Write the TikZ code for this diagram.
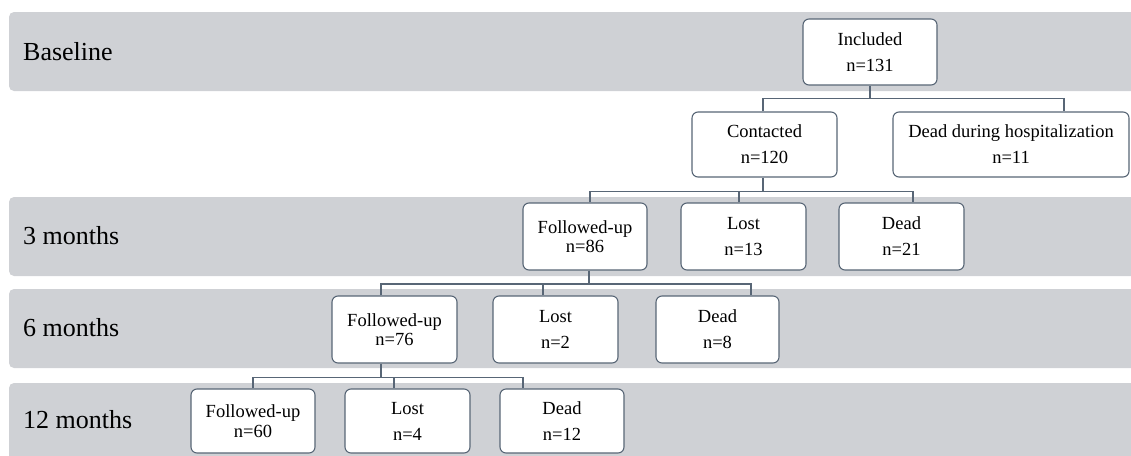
\documentclass[tikz,border=0pt]{standalone}
\usepackage{fontspec}
\setmainfont{Liberation Serif}
\usepackage{xcolor}
\usetikzlibrary{calc}

\definecolor{band}{RGB}{207,209,213}
\definecolor{edge}{RGB}{88,102,118}

\begin{document}
\begin{tikzpicture}[x=1pt, y=-1pt,
	box/.style={draw=edge, line width=1.1pt, fill=white, rounded corners=6pt, align=center, inner sep=0pt,
		minimum width=125pt, minimum height=67pt, font=\fontsize{18.5}{26}\selectfont},
	fubox/.style={box, font=\fontsize{18.5}{19.5}\selectfont},
	link/.style={draw=edge, line width=1.4pt},
	period/.style={anchor=west, inner sep=0pt, font=\fontsize{26}{30}\selectfont}]

	%page
	\useasboundingbox (0,0) rectangle (1131,455);

	%bands
	\fill[band, rounded corners=5pt] (9,12) rectangle (1150,91);
	\fill[band, rounded corners=5pt] (9,197) rectangle (1150,276);
	\fill[band, rounded corners=5pt] (9,289) rectangle (1150,368);
	\fill[band, rounded corners=5pt] (9,383) rectangle (1150,475);

	%periods
	\node[period] (p0) at (23,52) {Baseline};
	\node[period] (p3) at (23,236) {3 months};
	\node[period] (p6) at (23,328) {6 months};
	\node[period] (p12) at (23,420) {12 months};

	%baseline
	\node[box, minimum width=134pt, minimum height=66pt] (inc) at (870,52) {Included\\n=131};
	\node[box, minimum width=145pt, minimum height=65pt] (con) at (764.5,144.5) {Contacted\\n=120};
	\node[box, minimum width=236pt, minimum height=65pt] (dhosp) at (1011,144.5) {Dead during hospitalization\\n=11};

	%3 months
	\node[fubox, minimum width=124pt] (fu3) at (585,236.5) {Followed-up\\n=86};
	\node[box] (lost3) at (743.5,236.5) {Lost\\n=13};
	\node[box] (dead3) at (901.5,236.5) {Dead\\n=21};

	%6 months
	\node[fubox] (fu6) at (394.5,329.5) {Followed-up\\n=76};
	\node[box] (lost6) at (555.5,329.5) {Lost\\n=2};
	\node[box, minimum width=123pt] (dead6) at (717.5,329.5) {Dead\\n=8};

	%12 months
	\node[fubox, minimum width=124pt, minimum height=64pt] (fu12) at (253,421) {Followed-up\\n=60};
	\node[box, minimum height=64pt] (lost12) at (407.5,421) {Lost\\n=4};
	\node[box, minimum width=124pt, minimum height=64pt] (dead12) at (562,421) {Dead\\n=12};

	%links
	\draw[link] (inc.south) -- ++(0,13) coordinate (b0);
	\draw[link] ([xshift=-1.5pt]con.north) |- (b0) -| ([xshift=53pt]dhosp.north);

	\draw[link] ([xshift=-1.5pt]con.south) -- ++(0,14) coordinate (b1);
	\draw[link] ([xshift=5pt]fu3.north) |- (b1) -| ([xshift=11.5pt]dead3.north);
	\draw[link] ([xshift=-4.5pt]lost3.north) -- ([xshift=-4.5pt]lost3.north |- b1);

	\draw[link] ([xshift=4pt]fu3.south) -- ++(0,13.5) coordinate (b2);
	\draw[link] ([xshift=-13.5pt]fu6.north) |- (b2) -| ([xshift=33.5pt]dead6.north);
	\draw[link] ([xshift=-12.5pt]lost6.north) -- ([xshift=-12.5pt]lost6.north |- b2);

	\draw[link] ([xshift=-13.5pt]fu6.south) -- ++(0,14) coordinate (b3);
	\draw[link] (fu12.north) |- (b3) -| ([xshift=-39pt]dead12.north);
	\draw[link] ([xshift=-13.5pt]lost12.north) -- ([xshift=-13.5pt]lost12.north |- b3);

\end{tikzpicture}
\end{document}
